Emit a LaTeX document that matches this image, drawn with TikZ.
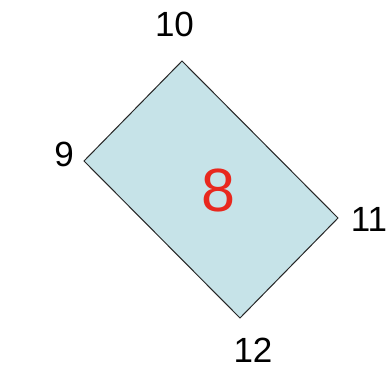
\documentclass[tikz,border=0pt]{standalone}
\usepackage{fontspec}
\setmainfont{Liberation Sans}
\definecolor{boxfill}{RGB}{198,227,232}
\definecolor{numred}{RGB}{232,40,30}
\begin{document}
\begin{tikzpicture}[x=1pt,y=-1pt,
  lbl/.style={inner sep=0pt,anchor=center,font=\fontsize{35}{35}\selectfont},
  big/.style={inner sep=0pt,anchor=center,text=numred,font=\fontsize{61}{61}\selectfont}]
\useasboundingbox (0,0) rectangle (392,368);
\fill[white] (0,0) rectangle (392,368);
\coordinate (t) at (182,61);
\coordinate (l) at (84,161);
\coordinate (b) at (240,318);
\coordinate (r) at (338,218);
\draw[fill=boxfill,draw=black!85,line width=1pt,line join=miter] (t) -- (l) -- (b) -- (r) -- cycle;
\node[lbl] (n10) at (174.5,24.5) {10};
\node[lbl] (n9) at (64,154) {9};
\node[lbl] (n11) at (369,219.5) {11};
\node[lbl] (n12) at (253,350) {12};
\node[big] (n8) at (218.5,190) {8};
\end{tikzpicture}
\end{document}
